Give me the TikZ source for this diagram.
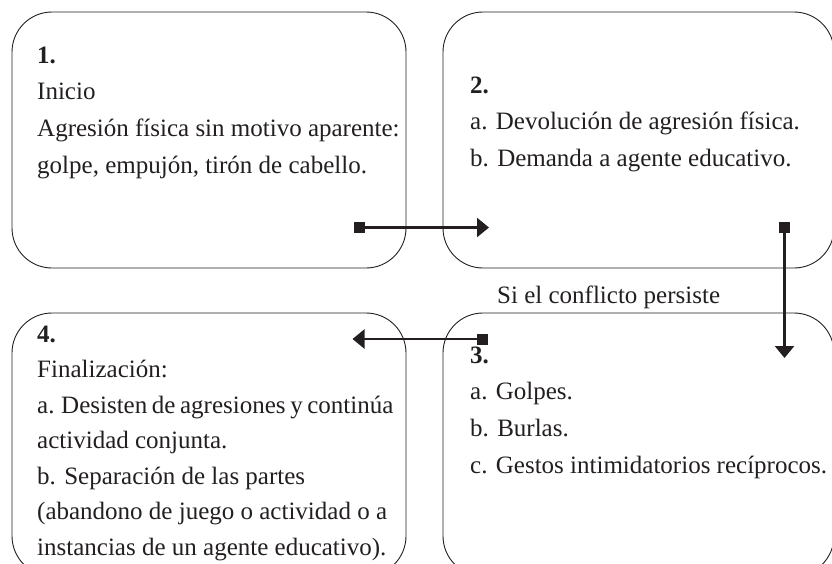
\documentclass[tikz,border=0pt]{standalone}
\usepackage{fontspec}
\setmainfont{Liberation Serif}
\usetikzlibrary{arrows.meta}
\definecolor{ink}{HTML}{231F20}
\newcommand{\lines}[1]{\begin{tabular}[t]{@{}l@{}}#1\end{tabular}}
\tikzset{
  panel/.style={draw=ink, line width=0.9pt, rounded corners=40pt},
  txt/.style={anchor=base west, inner sep=0pt, text=ink,
    font=\fontsize{25}{36.7}\selectfont},
  txttight/.style={txt, font=\fontsize{25}{35.5}\selectfont},
  knob/.style={fill=ink, inner sep=0pt, minimum size=11pt},
  link/.style={draw=ink, line width=2.5pt, -{Triangle[length=12pt,width=19pt]}}
}
\begin{document}
\begin{tikzpicture}[x=1pt,y=-1pt]
\useasboundingbox (0,0) rectangle (832,563);
\begin{scope}
\clip (0,0) rectangle (832,563);
\draw[panel] (12,12) rectangle (406,268);
\draw[panel] (443,12) rectangle (834,268);
\draw[panel] (12,313) rectangle (406,576);
\draw[panel] (443,313) rectangle (834,576);
\end{scope}

\node[txt] (t1) at (37,63) {\lines{\textbf{1.}\\Inicio\\Agresión física sin motivo aparente:\\golpe, empujón, tirón de cabello.}};
\node[txt] (t2) at (470,93) {\lines{\textbf{2.}\\a. Devolución de agresión física.\\b. Demanda a agente educativo.}};
\node[txt] (t3) at (470,363) {\lines{\textbf{3.}\\a. Golpes.\\b. Burlas.\\c. Gestos intimidatorios recíprocos.}};
\node[txttight] (t4) at (37,342) {\lines{\textbf{4.}\\Finalización:\\{\spaceskip=4.6pt a. Desisten de agresiones y continúa}\\actividad conjunta.\\b. Separación de las partes\\(abandono de juego o actividad o a\\instancias de un agente educativo).}};
\node[txt] (lab) at (497,303) {Si el conflicto persiste};

\node[knob] (k1) at (359.5,227.5) {};
\node[knob] (k2) at (784.5,227.5) {};
\node[knob] (k3) at (482.5,339) {};
\coordinate (e1) at (489,227.5);
\coordinate (e2) at (784.5,358);
\coordinate (e3) at (352.5,339);
\draw[link] (k1.center) -- (e1);
\draw[link] (k2.center) -- (e2);
\draw[link] (k3.center) -- (e3);
\end{tikzpicture}
\end{document}
